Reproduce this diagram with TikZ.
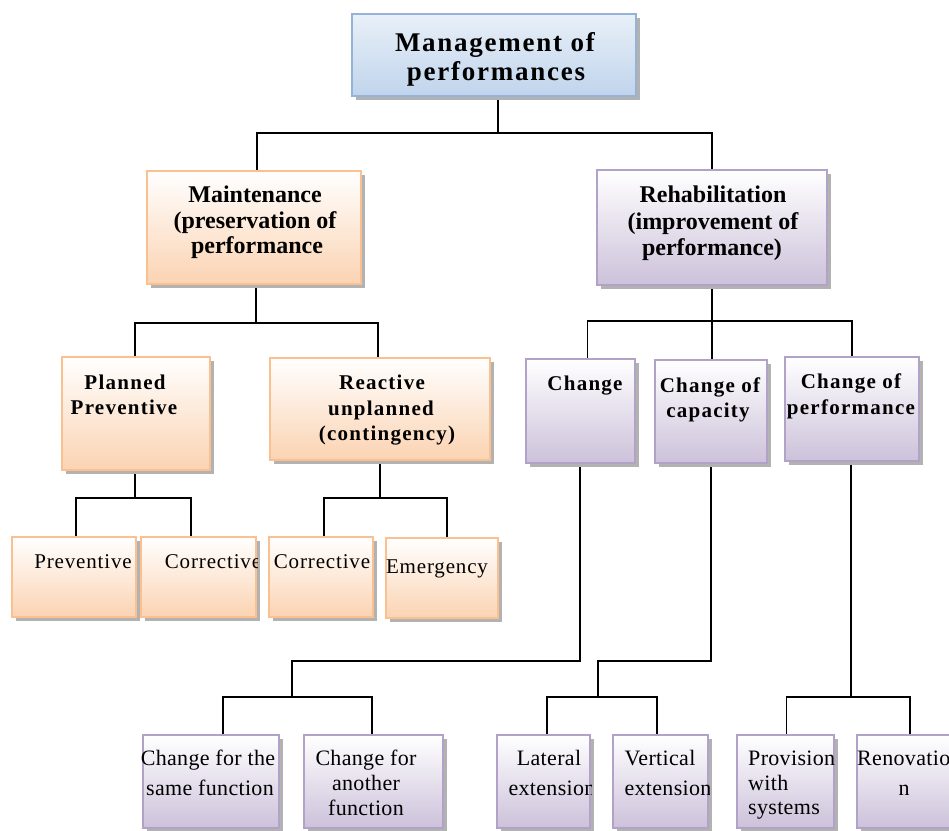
\documentclass[tikz,border=0pt]{standalone}
\usepackage{fontspec}
\setmainfont{Liberation Serif}
\newfontfamily\fsA[LetterSpace=6.5]{Liberation Serif}
\newfontfamily\fsB[LetterSpace=6]{Liberation Serif}
\newfontfamily\fsC[LetterSpace=4]{Liberation Serif}
\newfontfamily\fsD[LetterSpace=1.5]{Liberation Serif}
\usetikzlibrary{fit,backgrounds}
\definecolor{orB}{HTML}{FAC090}
\definecolor{orF}{HTML}{FBD3B2}
\definecolor{puB}{HTML}{B2A2C7}
\definecolor{puF}{HTML}{CCC1DA}
\definecolor{blB}{HTML}{95B3D7}
\definecolor{blT}{HTML}{E9F0F8}
\definecolor{blF}{HTML}{C0D4EC}
\tikzset{
  box/.style={inner sep=0pt, line width=2.5pt},
  orbox/.style={box, draw=orB, top color=white, bottom color=orF},
  pubox/.style={box, draw=puB, top color=white, bottom color=puF},
  blbox/.style={box, draw=blB, top color=blT, bottom color=blF},
  shad/.style={fill=black!30},
  link/.style={line width=1.8pt, black},
  t/.style={anchor=base, inner sep=0pt, text=black},
  ftop/.style={t, font={\fsA\bfseries\fontsize{27}{29}\selectfont}},
  ftwo/.style={t, font={\bfseries\fontsize{24}{26}\selectfont}},
  fthree/.style={t, font={\fsB\bfseries\fontsize{21}{24}\selectfont}},
  ffour/.style={t, font={\fsC\fontsize{21}{24}\selectfont}},
  ffive/.style={t, font={\fsD\fontsize{22}{25}\selectfont}},
}
\newcommand\bx[6]{%
  \fill[shad] (#2+4,#3+4) rectangle (#4+4,#5+4);
  \node[#6, fit={(#2,#3) (#4,#5)}] (#1) {};}
\newcommand\clipto[1]{\clip (#1.south west) rectangle (#1.north east);}
\begin{document}
\begin{tikzpicture}[x=1pt,y=-1pt]
\useasboundingbox (0,0) rectangle (949,830);
% boxes
\bx{top}{352}{14}{636}{96}{blbox}
\bx{maint}{147}{171}{361}{284}{orbox}
\bx{rehab}{597}{170}{827}{285}{pubox}
\bx{planned}{62}{357}{210}{470}{orbox}
\bx{reactive}{270}{358}{490}{460}{orbox}
\bx{prev}{12}{537}{136}{617}{orbox}
\bx{corrA}{141}{537}{256}{617}{orbox}
\bx{corrB}{269}{537}{373}{617}{orbox}
\bx{emerg}{386}{538}{498}{618}{orbox}
\bx{change}{526}{359}{635}{463}{pubox}
\bx{capac}{655}{360}{767}{463}{pubox}
\bx{perf}{785}{357}{919}{461}{pubox}
\bx{same}{143}{735}{279}{828}{pubox}
\bx{another}{304}{735}{443}{828}{pubox}
\bx{lateral}{497}{735}{590}{828}{pubox}
\bx{vertical}{613}{735}{708}{828}{pubox}
\bx{provision}{737}{735}{834}{828}{pubox}
\bx{renov}{857}{735}{962}{828}{pubox}
% connectors
\begin{scope}[on background layer]
\coordinate (j1) at (498,133);
\draw[link] (top.south -| j1) -- (j1);
\draw[link] ([xshift=3pt]maint.north) |- (j1) -| (rehab.north);
\coordinate (j2) at (256,323);
\draw[link] (maint.south -| j2) -- (j2);
\draw[link] ([xshift=-1pt]planned.north) |- (j2) -| ([xshift=-2pt]reactive.north);
\coordinate (j3) at (135,498);
\draw[link] (planned.south -| j3) -- (j3);
\draw[link] ([xshift=2pt]prev.north) |- (j3) -| ([xshift=-7.5pt]corrA.north);
\coordinate (j4) at (380,498);
\draw[link] (reactive.south -| j4) -- (j4);
\draw[link] ([xshift=3pt]corrB.north) |- (j4) -| ([xshift=5pt]emerg.north);
\coordinate (j5) at (712,321);
\draw[link] (rehab.south -| j5) -- (j5);
\draw[link] ([xshift=7pt]change.north) |- (j5) -| (perf.north);
\draw[link] (capac.north -| j5) -- (j5);
\coordinate (k6) at (580,661);
\coordinate (j6) at (292,697);
\draw[link] (change.south -| k6) -- (k6) -| (j6);
\draw[link] ([xshift=12pt]same.north) |- (j6) -| ([xshift=-1.5pt]another.north);
\coordinate (k7) at (711,661);
\coordinate (j7) at (598,697);
\draw[link] (capac.south -| k7) -- (k7) -| (j7);
\draw[link] ([xshift=3.5pt]lateral.north) |- (j7) -| ([xshift=-3.5pt]vertical.north);
\coordinate (j8) at (851,697);
\draw[link] (perf.south -| j8) -- (j8);
\draw[link] ([xshift=1pt]provision.north) |- (j8) -| ([xshift=0.5pt]renov.north);
\end{scope}
% texts
\begin{scope}\clipto{top}
\node[ftop] (topA) at (495,51) {Management of};
\node[ftop] (topB) at (496,80) {performances};
\end{scope}
\begin{scope}\clipto{maint}
\node[ftwo] (mA) at (255,202) {Maintenance};
\node[ftwo] (mB) at (255,228) {(preservation of};
\node[ftwo] (mC) at (257,253) {performance};
\end{scope}
\begin{scope}\clipto{rehab}
\node[ftwo] (rA) at (713,202) {Rehabilitation};
\node[ftwo] (rB) at (713,229) {(improvement of};
\node[ftwo] (rC) at (712,255) {performance)};
\end{scope}
\begin{scope}\clipto{planned}
\node[fthree] (pA) at (125,389) {Planned};
\node[fthree] (pB) at (124,414) {Preventive};
\end{scope}
\begin{scope}\clipto{reactive}
\node[fthree] (reA) at (382,389) {Reactive};
\node[fthree] (reB) at (381,415) {unplanned};
\node[fthree] (reC) at (387,440) {(contingency)};
\end{scope}
\begin{scope}\clipto{prev}
\node[ffour] (pvA) at (83,568) {Preventive};
\end{scope}
\begin{scope}\clipto{corrA}
\node[ffour] (caA) at (213,568) {Corrective};
\end{scope}
\begin{scope}\clipto{corrB}
\node[ffour] (cbA) at (322,568) {Corrective};
\end{scope}
\begin{scope}\clipto{emerg}
\node[ffour] (eA) at (437,573) {Emergency};
\end{scope}
\begin{scope}\clipto{change}
\node[fthree] (chA) at (585,390) {Change};
\end{scope}
\begin{scope}\clipto{capac}
\node[fthree] (cpA) at (710,392) {Change of};
\node[fthree] (cpB) at (708,417) {capacity};
\end{scope}
\begin{scope}\clipto{perf}
\node[fthree] (pfA) at (851,388) {Change of};
\node[fthree] (pfB) at (851,414) {performance};
\end{scope}
\begin{scope}\clipto{same}
\node[ffive] (sA) at (208,765) {Change for the};
\node[ffive] (sB) at (210,795) {same function};
\end{scope}
\begin{scope}\clipto{another}
\node[ffive] (aA) at (366,765) {Change for};
\node[ffive] (aB) at (366,790) {another};
\node[ffive] (aC) at (366,815) {function};
\end{scope}
\begin{scope}\clipto{lateral}
\node[ffive] (lA) at (549,765) {Lateral};
\node[ffive] (lB) at (552,795) {extension};
\end{scope}
\begin{scope}\clipto{vertical}
\node[ffive] (vA) at (660,765) {Vertical};
\node[ffive] (vB) at (668,795) {extension};
\end{scope}
\begin{scope}\clipto{provision}
\node[ffive, anchor=base west] (prA) at (748,765) {Provision};
\node[ffive, anchor=base west] (prB) at (748,790) {with};
\node[ffive, anchor=base west] (prC) at (748,814) {systems};
\end{scope}
\begin{scope}\clipto{renov}
\node[ffive, anchor=base west] (rnA) at (857,765) {Renovatio};
\node[ffive] (rnB) at (904,795) {n};
\end{scope}
\end{tikzpicture}
\end{document}
